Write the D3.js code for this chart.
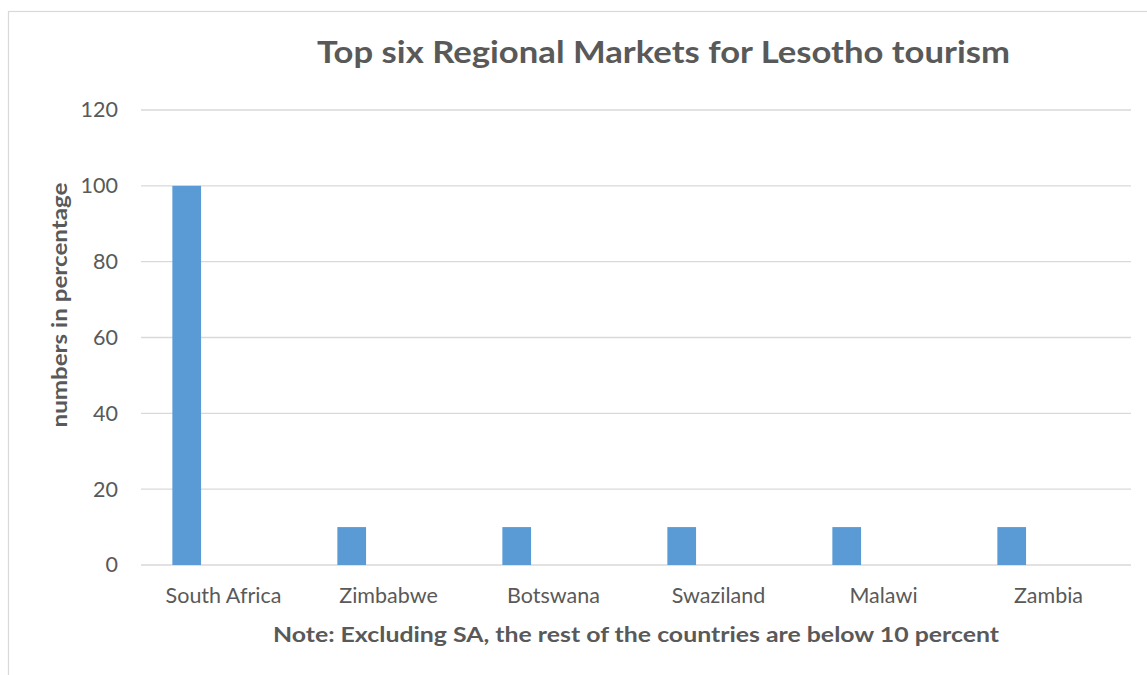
<!DOCTYPE html>
<html>
<head>
<meta charset="utf-8">
<script src="https://cdn.jsdelivr.net/npm/d3@7"></script>
<style>
  html, body { margin: 0; padding: 0; background: #ffffff; }
  svg { display: block; }
  text { font-family: Lato, "Open Sans", sans-serif; fill: #595959; }
</style>
</head>
<body>
<svg id="chart" width="1147" height="675"></svg>
<script>
// Share of regional visitors to Lesotho, by source country (percent)
const countries = ["South Africa", "Zimbabwe", "Botswana", "Swaziland", "Malawi", "Zambia"];
const shares = [100, 10, 10, 10, 10, 10];
const yTicks = [0, 20, 40, 60, 80, 100, 120];

const titleText = "Top six Regional Markets for Lesotho tourism";
const xTitleText = "Note: Excluding SA, the rest of the countries are below 10 percent";
const yTitleText = "numbers in percentage";

const W = 1147, H = 675;
const plot = { left: 141, right: 1131, top: 110, bottom: 565 };

const svg = d3.select("#chart");

// chart frame
svg.append("rect")
  .attr("x", 8.5).attr("y", 11.5)
  .attr("width", W + 20).attr("height", H + 20)
  .attr("fill", "#ffffff")
  .attr("stroke", "#d9d9d9").attr("stroke-width", 1.2);

const x = d3.scaleBand()
  .domain(countries)
  .range([plot.left, plot.right])
  .paddingInner(0).paddingOuter(0);

const y = d3.scaleLinear()
  .domain([0, 120])
  .range([plot.bottom, plot.top]);

// horizontal gridlines
svg.append("g")
  .selectAll("line")
  .data(yTicks)
  .join("line")
  .attr("x1", plot.left).attr("x2", plot.right)
  .attr("y1", d => y(d)).attr("y2", d => y(d))
  .attr("stroke", "#d9d9d9").attr("stroke-width", 1.4);

// y axis labels
const yAxis = svg.append("g")
  .attr("transform", `translate(${plot.left},0)`)
  .call(d3.axisLeft(y).tickValues(yTicks).tickSize(0).tickPadding(23));
yAxis.select(".domain").remove();
yAxis.selectAll("text")
  .attr("font-size", 21.5)
  .style("font-family", "Lato, 'Open Sans', sans-serif")
  .attr("fill", "#595959");

// x axis labels
const xAxis = svg.append("g")
  .attr("transform", `translate(0,${plot.bottom})`)
  .call(d3.axisBottom(x).tickSize(0).tickPadding(23));
xAxis.select(".domain").remove();
xAxis.selectAll("text")
  .attr("font-size", 21.5)
  .style("font-family", "Lato, 'Open Sans', sans-serif")
  .attr("fill", "#595959");

// bars sit in the first slot of each category
const barOffset = 0.19, barWidth = 0.174;
svg.append("g")
  .selectAll("rect")
  .data(countries.map((c, i) => ({ c, v: shares[i] })))
  .join("rect")
  .attr("x", d => x(d.c) + x.bandwidth() * barOffset)
  .attr("width", x.bandwidth() * barWidth)
  .attr("y", d => y(d.v))
  .attr("height", d => y(0) - y(d.v))
  .attr("fill", "#5b9bd5");

// chart title
svg.append("text")
  .attr("x", 663.5).attr("y", 63)
  .attr("text-anchor", "middle")
  .attr("font-size", 31).attr("font-weight", "bold")
  .attr("textLength", 693).attr("lengthAdjust", "spacingAndGlyphs")
  .text(titleText);

// x axis title
svg.append("text")
  .attr("x", (plot.left + plot.right) / 2).attr("y", 642)
  .attr("text-anchor", "middle")
  .attr("font-size", 21.5).attr("font-weight", "bold")
  .attr("textLength", 726).attr("lengthAdjust", "spacingAndGlyphs")
  .text(xTitleText);

// y axis title
svg.append("text")
  .attr("transform", "translate(67,305) rotate(-90)")
  .attr("text-anchor", "middle")
  .attr("font-size", 21.5).attr("font-weight", "bold")
  .attr("textLength", 245).attr("lengthAdjust", "spacingAndGlyphs")
  .text(yTitleText);
</script>
</body>
</html>
